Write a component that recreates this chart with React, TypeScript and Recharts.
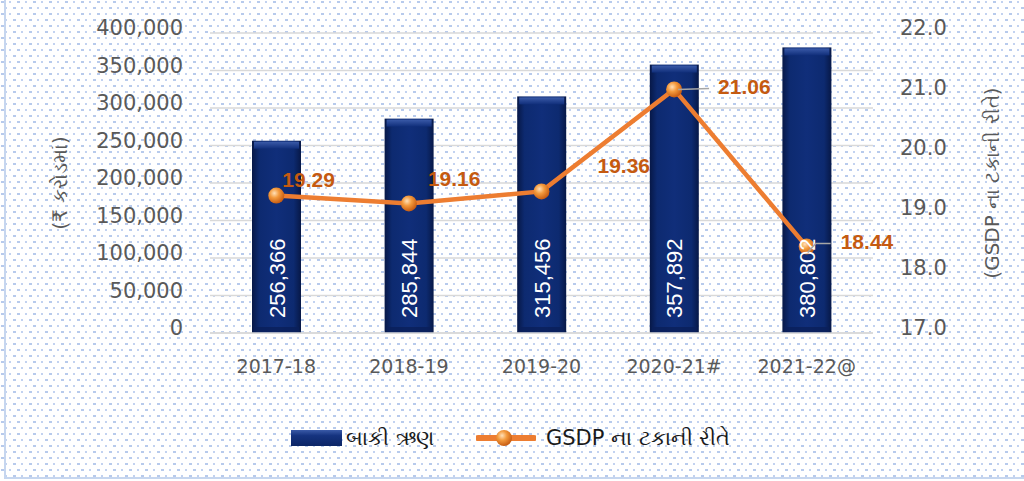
import {
  ComposedChart,
  Bar,
  Line,
  XAxis,
  YAxis,
  CartesianGrid,
  LabelList,
} from "recharts";

const categories = ["2017-18", "2018-19", "2019-20", "2020-21#", "2021-22@"];
const debtValues = [256366, 285844, 315456, 357892, 380802];
const gsdpPercent = [19.29, 19.16, 19.36, 21.06, 18.44];
const leftTicks = [0, 50000, 100000, 150000, 200000, 250000, 300000, 350000, 400000];
const rightTicks = [17, 18, 19, 20, 21, 22];

const debtName = "બાકી ઋણ";
const gsdpName = "GSDP ના ટકાની રીતે";
const leftTitle = "(₹ કરોડમાં)";
const rightTitle = "(GSDP ના ટકાની રીતે)";

const data = categories.map((c, i) => ({
  year: c,
  debt: debtValues[i],
  pct: gsdpPercent[i],
}));

// where each percentage label sits relative to its point
const pctLabelPos = [
  { dx: 6, dy: -9, leader: false },
  { dx: 19, dy: -17, leader: false },
  { dx: 56, dy: -18, leader: false },
  { dx: 44, dy: 5, leader: true },
  { dx: 34, dy: 2, leader: true },
];

const tickStyle = { fill: "#595959", fontSize: 20, fontFamily: "DejaVu Sans" };

const dotsBg =
  "url(\"data:image/svg+xml;utf8," +
  encodeURIComponent(
    "<svg xmlns='http://www.w3.org/2000/svg' width='16' height='12'>" +
      "<rect x='1' y='1' width='3' height='2' fill='#B7CAEC'/>" +
      "<rect x='9' y='1' width='2' height='2' fill='#C2D2F0'/>" +
      "<rect x='5' y='7' width='2' height='2' fill='#C2D2F0'/>" +
      "<rect x='13' y='7' width='3' height='2' fill='#B7CAEC'/>" +
      "</svg>"
  ) +
  "\")";

function BarShape(props: any) {
  const { x, y, width, height } = props;
  if (!height || height <= 0) return null;
  return (
    <g>
      <rect x={x} y={y} width={width} height={height} fill="url(#barGrad)" />
      <rect x={x + 2} y={y + 1} width={width - 4} height={7} fill="url(#barTop)" />
      <rect x={x + 2} y={y + height - 6} width={width - 4} height={5} fill="#0A1F5A" opacity={0.8} />
    </g>
  );
}

function BarValueLabel(props: any) {
  const { x, y, width, height, value } = props;
  const cx = x + width / 2 + 8;
  const by = y + height - 15;
  return (
    <text
      x={cx}
      y={by}
      transform={`rotate(-90, ${cx}, ${by})`}
      fill="#ffffff"
      fontSize={22}
      fontFamily="Liberation Sans"
      textAnchor="start"
    >
      {Number(value).toLocaleString("en-US")}
    </text>
  );
}

function PctLabel(props: any) {
  const { x, y, value, index } = props;
  const pos = pctLabelPos[index];
  return (
    <g>
      {pos.leader && index === 3 && (
        <line x1={x + 4} y1={y} x2={x + 35} y2={y - 1} stroke="#A6A6A6" strokeWidth={1.5} />
      )}
      {pos.leader && index === 4 && (
        <polyline
          points={`${x + 1},${y + 6} ${x + 9},${y - 3} ${x + 24},${y - 3}`}
          fill="none"
          stroke="#A6A6A6"
          strokeWidth={1.5}
        />
      )}
      <text
        x={x + pos.dx}
        y={y + pos.dy}
        fill="#C55A11"
        fontSize={21}
        fontWeight="bold"
        fontFamily="Liberation Sans"
      >
        {Number(value).toFixed(2)}
      </text>
    </g>
  );
}

export default function App() {
  return (
    <div
      style={{
        position: "absolute",
        left: 0,
        top: 0,
        width: 1024,
        height: 481,
        backgroundColor: "#ffffff",
        backgroundImage: dotsBg,
        overflow: "hidden",
      }}
    >
      <div
        style={{
          position: "absolute",
          left: 4,
          top: 0,
          width: 1030,
          height: 477,
          borderLeft: "2px solid #C6D6EF",
          borderBottom: "2px solid #C6D6EF",
        }}
      />
      <ComposedChart
        width={1024}
        height={481}
        data={data}
        margin={{ top: 33, right: 0, left: 0, bottom: 88 }}
        style={{ position: "absolute", left: 0, top: 0 }}
      >
        <defs>
          <linearGradient id="barGrad" x1="0" y1="0" x2="1" y2="0">
            <stop offset="0%" stopColor="#071847" />
            <stop offset="15%" stopColor="#0D2A70" />
            <stop offset="50%" stopColor="#102E7A" />
            <stop offset="85%" stopColor="#0D2A70" />
            <stop offset="100%" stopColor="#071847" />
          </linearGradient>
          <linearGradient id="barTop" x1="0" y1="0" x2="0" y2="1">
            <stop offset="0%" stopColor="#3A5AA8" />
            <stop offset="100%" stopColor="#102E7A" />
          </linearGradient>
          <radialGradient id="dotGrad" cx="38%" cy="35%" r="65%">
            <stop offset="0%" stopColor="#FFE0B8" />
            <stop offset="45%" stopColor="#F39A3D" />
            <stop offset="100%" stopColor="#C85D12" />
          </radialGradient>
        </defs>
        <CartesianGrid vertical={false} stroke="#D9D9D9" strokeWidth={1.5} yAxisId="left" />
        <XAxis
          dataKey="year"
          tick={{ ...tickStyle, fontSize: 19 }}
          axisLine={{ stroke: "#D9D9D9", strokeWidth: 1.5 }}
          tickLine={false}
          tickMargin={21}
          height={60}
          interval={0}
        />
        <YAxis
          yAxisId="left"
          orientation="left"
          width={210}
          domain={[0, 400000]}
          ticks={leftTicks}
          tick={{ ...tickStyle, fontSize: 21, dy: -5 }}
          tickFormatter={(v: number) => v.toLocaleString("en-US")}
          axisLine={false}
          tickLine={false}
          tickMargin={21}
          label={{
            value: leftTitle,
            angle: -90,
            position: "insideLeft",
            offset: 60,
            style: { fill: "#595959", fontSize: 20, fontFamily: "DejaVu Sans", textAnchor: "middle" },
          }}
        />
        <YAxis
          yAxisId="right"
          orientation="right"
          width={151}
          domain={[17, 22]}
          ticks={rightTicks}
          tick={{ ...tickStyle, fontSize: 21, textAnchor: "start", dy: -5 }}
          tickFormatter={(v: number) => v.toFixed(1)}
          axisLine={false}
          tickLine={false}
          tickMargin={21}
          label={{
            value: rightTitle,
            angle: -90,
            position: "insideRight",
            offset: 32,
            style: { fill: "#595959", fontSize: 20, fontFamily: "DejaVu Sans", textAnchor: "middle" },
          }}
        />
        <Bar
          yAxisId="left"
          dataKey="debt"
          name={debtName}
          barSize={49}
          shape={<BarShape />}
          isAnimationActive={false}
        >
          <LabelList dataKey="debt" content={<BarValueLabel />} />
        </Bar>
        <Line
          yAxisId="right"
          dataKey="pct"
          name={gsdpName}
          stroke="#ED7D31"
          strokeWidth={4.5}
          dot={{ r: 8, fill: "url(#dotGrad)", stroke: "none" }}
          activeDot={false}
          isAnimationActive={false}
        >
          <LabelList dataKey="pct" content={<PctLabel />} />
        </Line>
      </ComposedChart>
      <div
        style={{
          position: "absolute",
          left: 0,
          top: 424,
          width: 1024,
          height: 28,
          fontFamily: "DejaVu Sans",
          fontSize: 21,
          color: "#1a1a1a",
        }}
      >
        <div
          style={{
            position: "absolute",
            left: 291,
            top: 6,
            width: 51,
            height: 16,
            background: "linear-gradient(180deg, #3A5AA8 0%, #15337F 35%, #0C2566 100%)",
          }}
        />
        <span style={{ position: "absolute", left: 346, top: 0, lineHeight: "28px" }}>{debtName}</span>
        <svg style={{ position: "absolute", left: 476, top: 0 }} width={60} height={28}>
          <line x1={2} y1={14} x2={58} y2={14} stroke="#ED7D31" strokeWidth={6} strokeLinecap="round" />
          <defs>
            <radialGradient id="legDot" cx="38%" cy="35%" r="65%">
              <stop offset="0%" stopColor="#FFE0B8" />
              <stop offset="45%" stopColor="#F39A3D" />
              <stop offset="100%" stopColor="#C85D12" />
            </radialGradient>
          </defs>
          <circle cx={28} cy={14} r={8} fill="url(#legDot)" />
        </svg>
        <span style={{ position: "absolute", left: 546, top: 0, lineHeight: "28px" }}>{gsdpName}</span>
      </div>
    </div>
  );
}
